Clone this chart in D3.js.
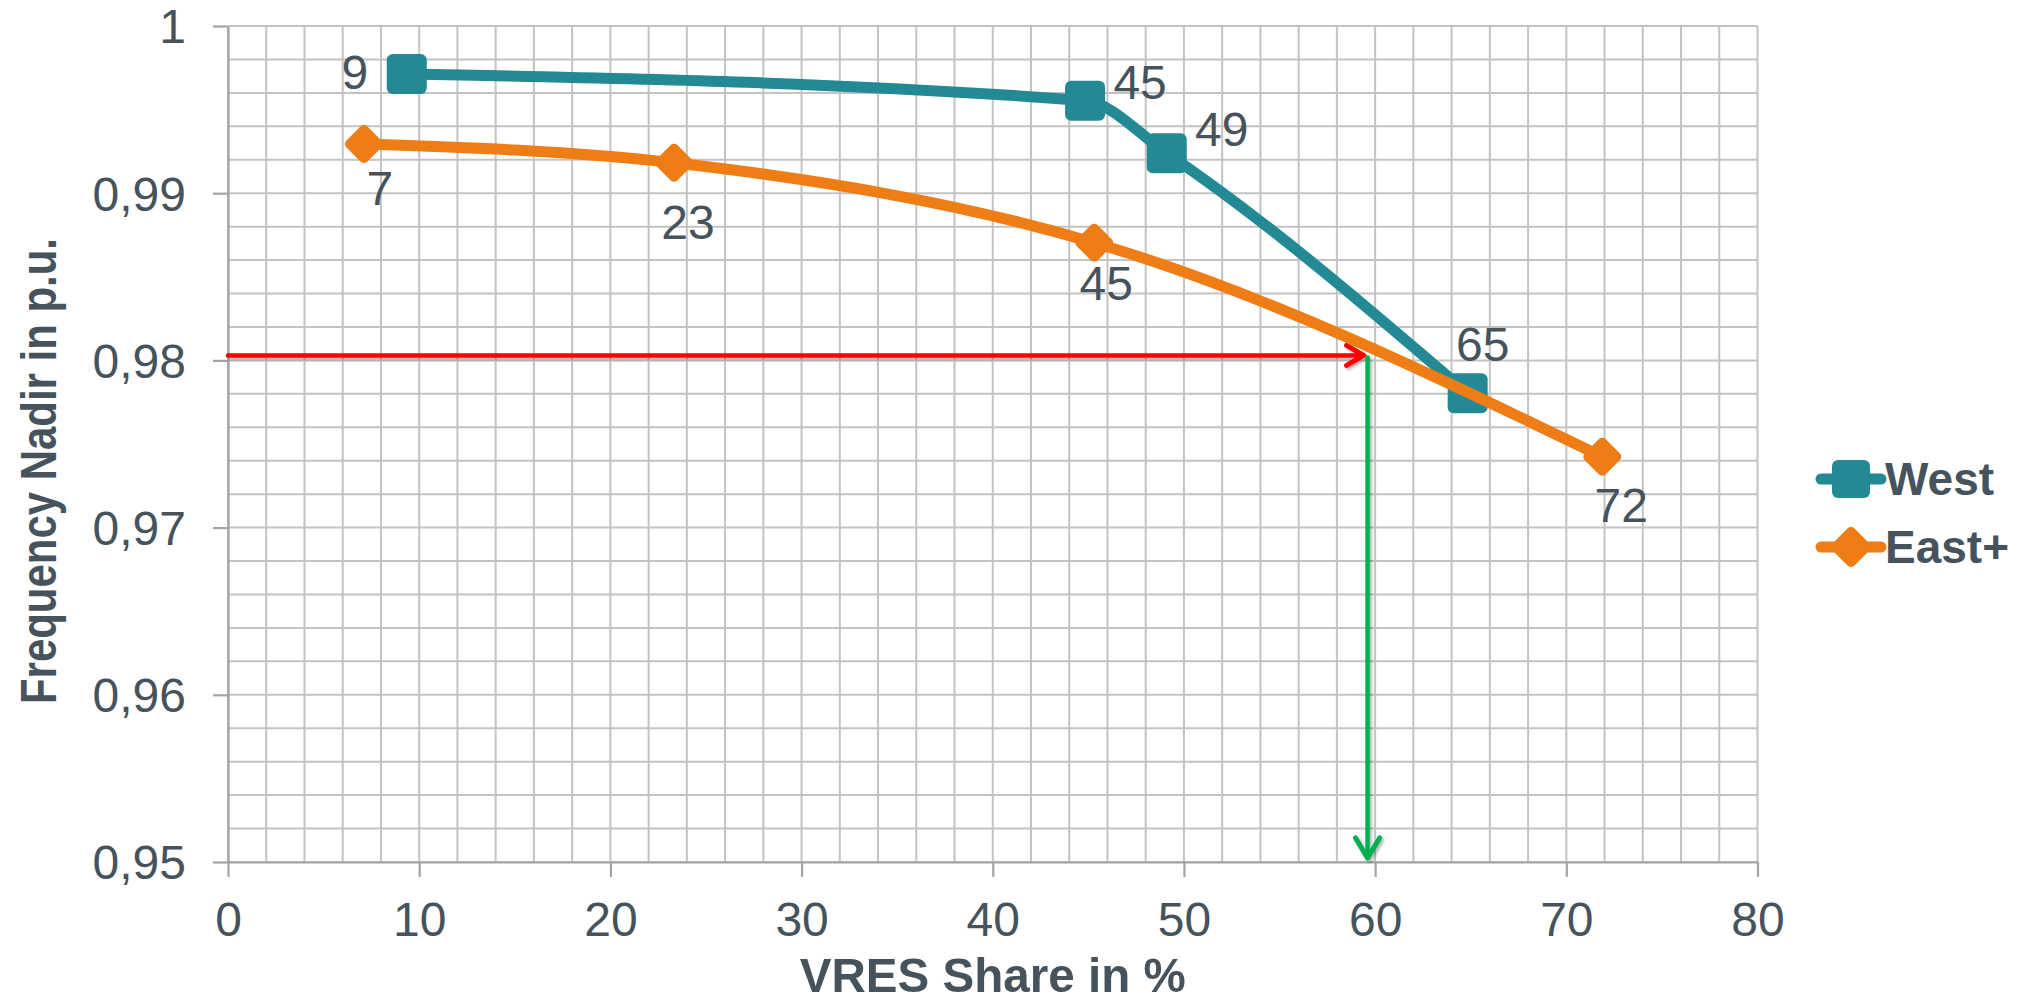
<!DOCTYPE html>
<html><head><meta charset="utf-8">
<script src="https://cdn.jsdelivr.net/npm/d3@7"></script>
<style>
body{margin:0;background:#fff}
text{font-family:"Liberation Sans",Arial,Helvetica,sans-serif}
</style>
</head><body>
<svg id="chart" width="2023" height="1003"></svg>
<script>
// ---- data ----
const xTicks = [0, 10, 20, 30, 40, 50, 60, 70, 80];
const yTicks = [0.95, 0.96, 0.97, 0.98, 0.99, 1];
const yTickLabels = ["0,95", "0,96", "0,97", "0,98", "0,99", "1"];
const seriesNames = ["West", "East+"];
const westX = [9.35, 44.83, 49.10, 64.84];
const westY = [0.99713, 0.99553, 0.99239, 0.97803];
const westLabels = ["9", "45", "49", "65"];
const eastX = [7.11, 23.33, 45.31, 71.88];
const eastY = [0.99294, 0.99182, 0.98704, 0.97424];
const eastLabels = ["7", "23", "45", "72"];
const annotX = 59.5;      // VRES share read-off
const annotY = 0.9803;    // frequency nadir read-off
const xTitle = "VRES Share in %";
const yTitle = "Frequency Nadir in p.u.";

// ---- layout / style ----
const W = 2023, H = 1003;
const pL = 228, pR = 1757.5, pT = 26, pB = 862;
const textCol = "#46535c";
const westCol = "#228995", eastCol = "#ef7d15";
const westLabelOff = [[-52, -2], [55, -19], [55, -24], [15, -49]];
const eastLabelOff = [[16, 44], [14, 59], [12, 41], [19, 48]];

const svg = d3.select("#chart");
svg.append("rect").attr("width", W).attr("height", H).attr("fill", "#fff");
const defs = svg.append("defs");
const flt = defs.append("filter").attr("id", "sh").attr("x", "-20%").attr("y", "-20%").attr("width", "140%").attr("height", "140%");
flt.append("feDropShadow").attr("dx", 2).attr("dy", 2).attr("stdDeviation", 1.5).attr("flood-color", "#000").attr("flood-opacity", 0.3);

const x = d3.scaleLinear().domain([0, 80]).range([pL, pR]);
const y = d3.scaleLinear().domain([0.95, 1]).range([pB, pT]);

// minor grid
const grid = svg.append("g").attr("stroke", "#c3c3c3").attr("stroke-width", 2);
d3.range(0, 80.0001, 2).forEach(v => {
  grid.append("line").attr("x1", x(v)).attr("x2", x(v)).attr("y1", y(1)).attr("y2", y(0.95));
});
d3.range(0, 25.5, 1).map(i => 0.95 + i * 0.002).forEach(v => {
  grid.append("line").attr("x1", x(0)).attr("x2", x(80)).attr("y1", y(v)).attr("y2", y(v));
});

// axes
const yAxis = d3.axisLeft(y).tickValues(yTicks).tickFormat((d, i) => yTickLabels[i])
  .tickSize(15).tickSizeOuter(0).tickPadding(27);
const gy = svg.append("g").attr("transform", `translate(${pL},0)`).call(yAxis);
const xAxis = d3.axisBottom(x).tickValues(xTicks).tickFormat(d => String(d))
  .tickSize(15).tickSizeOuter(0).tickPadding(25);
const gx = svg.append("g").attr("transform", `translate(0,${pB})`).call(xAxis);
[gx, gy].forEach(g => {
  g.select(".domain").attr("stroke", "#a0a4a6").attr("stroke-width", 2.2);
  g.selectAll(".tick line").attr("stroke", "#a0a4a6").attr("stroke-width", 2.2);
  g.selectAll(".tick text").attr("fill", textCol).attr("font-size", 48)
    .attr("font-family", "'Liberation Sans', Arial, sans-serif");
});
gy.selectAll(".tick text").attr("dy", "0.35em");

// axis titles
svg.append("text").attr("x", (pL + pR) / 2).attr("y", 992)
  .attr("text-anchor", "middle").attr("font-size", 49).attr("font-weight", "bold")
  .attr("fill", textCol).attr("textLength", 386).attr("lengthAdjust", "spacingAndGlyphs").text(xTitle);
svg.append("text").attr("transform", "translate(56,471) rotate(-90)")
  .attr("text-anchor", "middle").attr("font-size", 50).attr("font-weight", "bold")
  .attr("fill", textCol).attr("textLength", 466).attr("lengthAdjust", "spacingAndGlyphs").text(yTitle);

// annotation arrows
const ax = x(annotX), ay = y(annotY);
const ann = svg.append("g").attr("filter", "url(#sh)").attr("fill", "none")
  .attr("stroke-linecap", "round").attr("stroke-linejoin", "round");
ann.append("line").attr("x1", x(0)).attr("x2", ax - 2).attr("y1", ay).attr("y2", ay)
  .attr("stroke", "#ff0000").attr("stroke-width", 4.5);
ann.append("path").attr("d", `M${ax - 19},${ay - 10}L${ax - 2},${ay}L${ax - 19},${ay + 10}`)
  .attr("stroke", "#ff0000").attr("stroke-width", 5);
ann.append("line").attr("x1", ax + 2).attr("x2", ax + 2).attr("y1", ay + 2).attr("y2", y(0.95) - 4)
  .attr("stroke", "#00b050").attr("stroke-width", 4.5);
ann.append("path").attr("d", `M${ax - 10},${y(0.95) - 24}L${ax + 2},${y(0.95) - 4}L${ax + 14},${y(0.95) - 24}`)
  .attr("stroke", "#00b050").attr("stroke-width", 5);

// series
const line = d3.line().x(d => x(d[0])).y(d => y(d[1])).curve(d3.curveMonotoneX);
const westPts = westX.map((v, i) => [v, westY[i]]);
const eastPts = eastX.map((v, i) => [v, eastY[i]]);

function drawSquare(g, cx, cy, s, col) {
  g.append("rect").attr("x", cx - s / 2).attr("y", cy - s / 2).attr("width", s).attr("height", s)
    .attr("rx", 6).attr("fill", col);
}
function drawDiamond(g, cx, cy, s, col) {
  const a = s / Math.SQRT2;
  g.append("rect").attr("x", -a / 2).attr("y", -a / 2).attr("width", a).attr("height", a)
    .attr("rx", 5).attr("fill", col).attr("transform", `translate(${cx},${cy}) rotate(45)`);
}

svg.append("path").datum(westPts).attr("d", line).attr("fill", "none")
  .attr("stroke", westCol).attr("stroke-width", 11).attr("stroke-linejoin", "round");
const wm = svg.append("g");
westPts.forEach(p => drawSquare(wm, x(p[0]), y(p[1]), 40, westCol));

svg.append("path").datum(eastPts).attr("d", line).attr("fill", "none")
  .attr("stroke", eastCol).attr("stroke-width", 11).attr("stroke-linejoin", "round");
const em = svg.append("g");
eastPts.forEach(p => drawDiamond(em, x(p[0]), y(p[1]), 42, eastCol));

// data labels
const lab = svg.append("g").attr("fill", textCol).attr("font-size", 48).attr("text-anchor", "middle");
westPts.forEach((p, i) => lab.append("text").attr("x", x(p[0]) + westLabelOff[i][0])
  .attr("y", y(p[1]) + westLabelOff[i][1]).attr("dy", "0.35em").text(westLabels[i]));
eastPts.forEach((p, i) => lab.append("text").attr("x", x(p[0]) + eastLabelOff[i][0])
  .attr("y", y(p[1]) + eastLabelOff[i][1]).attr("dy", "0.35em").text(eastLabels[i]));

// legend
const leg = svg.append("g");
const legRows = [{ y: 479, col: westCol, shape: "sq" }, { y: 547, col: eastCol, shape: "di" }];
legRows.forEach((r, i) => {
  leg.append("line").attr("x1", 1821).attr("x2", 1881).attr("y1", r.y).attr("y2", r.y)
    .attr("stroke", r.col).attr("stroke-width", 11).attr("stroke-linecap", "round");
  if (r.shape === "sq") drawSquare(leg, 1851, r.y, 38, r.col);
  else drawDiamond(leg, 1851, r.y, 44, r.col);
  leg.append("text").attr("x", 1885).attr("y", r.y + 16).attr("font-size", 46)
    .attr("font-weight", "bold").attr("fill", textCol).text(seriesNames[i]);
});
</script>
</body></html>
